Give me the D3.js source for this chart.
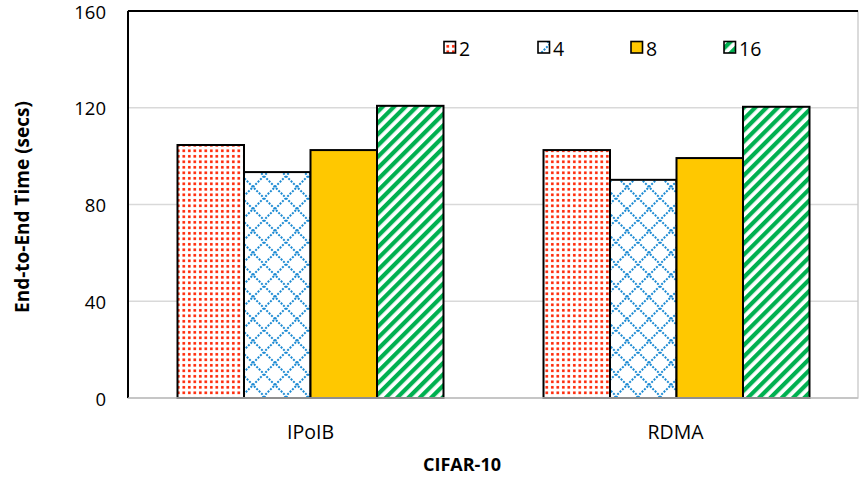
<!DOCTYPE html>
<html><head><meta charset="utf-8">
<script src="https://cdn.jsdelivr.net/npm/d3@7"></script>
<style>body{margin:0;background:#fff}svg{display:block}text{font-family:"Open Sans",sans-serif;fill:#000}</style>
</head><body><svg id="c" width="859" height="477"></svg>
<script>
const categories = ["IPoIB", "RDMA"];
const seriesNames = ["2", "4", "8", "16"];
const values2 = [104.6, 102.5];
const values4 = [93.4, 90.2];
const values8 = [102.5, 99.2];
const values16 = [120.8, 120.4];
const yTicks = [0, 40, 80, 120, 160];
const yTitle = "End-to-End Time (secs)";
const xTitle = "CIFAR-10";

const seriesValues = [values2, values4, values8, values16];
const svg = d3.select("#c");
const L = 128, R = 858, T = 11, B = 398;

const defs = svg.append("defs");
const pDots = defs.append("pattern").attr("id","pDots").attr("patternUnits","userSpaceOnUse").attr("width",5.5).attr("height",5.5);
pDots.append("rect").attr("width",5.5).attr("height",5.5).attr("fill","#fff");
pDots.append("rect").attr("x",1).attr("y",1).attr("width",2.6).attr("height",2.6).attr("fill","#ff2200");
const pDia = defs.append("pattern").attr("id","pDia").attr("patternUnits","userSpaceOnUse").attr("width",22).attr("height",22);
pDia.append("rect").attr("width",22).attr("height",22).attr("fill","#fff");
pDia.append("path").attr("d","M0,0L22,22M22,0L0,22").attr("stroke","#1b8ad3").attr("stroke-width",2).attr("stroke-dasharray","2,1.4");
const pStr = defs.append("pattern").attr("id","pStr").attr("patternUnits","userSpaceOnUse").attr("width",8).attr("height",8).attr("patternTransform","rotate(45)");
pStr.append("rect").attr("width",8).attr("height",8).attr("fill","#fff");
pStr.append("rect").attr("width",4.2).attr("height",8).attr("fill","#00b050");

const fills = ["url(#pDots)","url(#pDia)","#ffc800","url(#pStr)"];

const y = d3.scaleLinear().domain([0,160]).range([B,T]);
const x0 = d3.scaleBand().domain(categories).range([L,R]);
const groupW = 266;
const x1 = d3.scaleBand().domain(seriesNames).range([0,groupW]);

svg.append("g").selectAll("line").data(yTicks.filter(d=>d>0 && d<160)).join("line")
  .attr("x1",L).attr("x2",R).attr("y1",d=>y(d)).attr("y2",d=>y(d))
  .attr("stroke","#d9d9d9").attr("stroke-width",1.3);
svg.append("rect").attr("x",L).attr("y",T).attr("width",R-L).attr("height",B-T)
  .attr("fill","none").attr("stroke","#c8c8c8").attr("stroke-width",1.3);

const g = svg.append("g");
categories.forEach((c,ci)=>{
  const gx = x0(c) + (x0.bandwidth()-groupW)/2 + ci;
  seriesNames.forEach((s,si)=>{
    const v = seriesValues[si][ci];
    g.append("rect").attr("x",gx + x1(s)).attr("y",y(v))
      .attr("width",x1.bandwidth()).attr("height",y(0)-y(v))
      .attr("fill",fills[si]).attr("stroke","#000").attr("stroke-width",2);
  });
});

svg.append("line").attr("x1",L).attr("x2",R).attr("y1",T).attr("y2",T).attr("stroke","#000").attr("stroke-width",2);
svg.append("line").attr("x1",L).attr("x2",L).attr("y1",T).attr("y2",B).attr("stroke","#000").attr("stroke-width",2);
svg.append("line").attr("x1",L).attr("x2",R).attr("y1",B).attr("y2",B).attr("stroke","#bfbfbf").attr("stroke-width",1.5);

const yAxis = d3.axisLeft(y).tickValues(yTicks).tickSize(0).tickPadding(22);
const ya = svg.append("g").attr("transform",`translate(${L},0)`).call(yAxis);
ya.select(".domain").remove();
ya.selectAll("text").style("font-family","'Open Sans',sans-serif").style("font-size","18.5px").attr("fill","#000").attr("dy","0.38em");

const xAxis = d3.axisBottom(x0).tickSize(0).tickPadding(27);
const xa = svg.append("g").attr("transform",`translate(0,${B})`).call(xAxis);
xa.select(".domain").remove();
xa.selectAll("text").style("font-family","'Open Sans',sans-serif").style("font-size","19.5px").attr("fill","#000");

svg.append("text").attr("transform","translate(29,207) rotate(-90)").attr("text-anchor","middle")
  .style("font-size","19px").style("font-weight","bold").text(yTitle);
svg.append("text").attr("x",462).attr("y",471).attr("text-anchor","middle")
  .style("font-size","18px").style("font-weight","bold").text(xTitle);

const legX = [444, 538, 631, 724];
seriesNames.forEach((s,i)=>{
  svg.append("rect").attr("x",legX[i]).attr("y",41.5).attr("width",11.5).attr("height",11.5)
    .attr("fill",fills[i]).attr("stroke","#000").attr("stroke-width",1.6);
  svg.append("text").attr("x",legX[i]+15).attr("y",55.5).style("font-size","19.5px").text(s);
});
</script></body></html>
